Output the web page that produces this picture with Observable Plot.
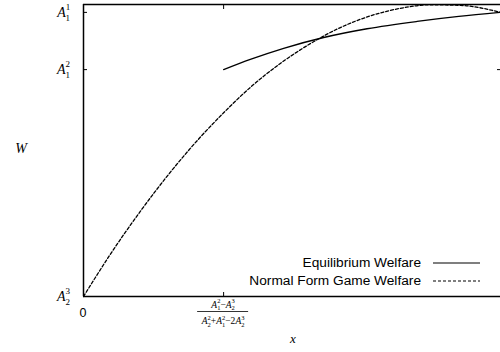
<!DOCTYPE html>
<html><head><meta charset="utf-8">
<script src="https://cdn.jsdelivr.net/npm/d3@7"></script>
<script src="https://cdn.jsdelivr.net/npm/@observablehq/plot@0.6"></script>
<style>body{margin:0;background:#fff} #chart svg{display:block}</style>
</head><body><div id="chart"></div>
<script>
// Normal form game welfare (dashed)
const nfX = [0, 0.065, 0.137, 0.209, 0.281, 0.336, 0.400, 0.472, 0.544, 0.616, 0.688, 0.760, 0.832, 0.904, 1.0];
const nfW = [0, 0.146, 0.293, 0.427, 0.547, 0.629, 0.716, 0.798, 0.866, 0.921, 0.961, 0.987, 0.999, 0.997, 0.973];
// Equilibrium welfare (solid)
const eqX = [0.336, 0.400, 0.480, 0.576, 0.680, 0.800, 0.900, 1.0];
const eqW = [0.777, 0.812, 0.850, 0.887, 0.917, 0.942, 0.959, 0.973];
// ticks
const yTickValues = [0.973, 0.777, 0];
const yTickLabels = [{sub:"1", sup:"1"}, {sub:"1", sup:"2"}, {sub:"2", sup:"3"}];
const xTickValues = [0.336];
const legendLabels = ["Equilibrium Welfare", "Normal Form Game Welfare"];

const nf = nfX.map((x, i) => ({x, w: nfW[i]}));
const eq = eqX.map((x, i) => ({x, w: eqW[i]}));

const serif = "'Liberation Serif', 'DejaVu Serif', serif";
const sans = "'Liberation Sans', Arial, sans-serif";

const chart = Plot.plot({
  width: 500, height: 352,
  marginLeft: 83, marginRight: 0, marginTop: 4, marginBottom: 56,
  x: {domain: [0, 1], label: null},
  y: {domain: [0, 1], label: null},
  style: {background: "white", color: "black"},
  marks: [
    Plot.line(nf, {x: "x", y: "w", stroke: "black", strokeWidth: 1.3, strokeDasharray: "3,2", curve: "monotone-x"}),
    Plot.line(eq, {x: "x", y: "w", stroke: "black", strokeWidth: 1.3, curve: "monotone-x"}),
    Plot.axisY(yTickValues.slice(0, 2), {anchor: "left", tickSize: -4, tickFormat: () => "", label: null}),
    Plot.axisY(yTickValues.slice(0, 2), {anchor: "right", tickSize: -4, tickFormat: () => "", label: null}),
    Plot.axisX(xTickValues, {anchor: "bottom", tickSize: -4, tickFormat: () => "", label: null}),
    Plot.axisX(xTickValues, {anchor: "top", tickSize: -4, tickFormat: () => "", label: null}),
    Plot.ruleX([0], {stroke: "black", strokeWidth: 1.5}),
    Plot.ruleY([0, 1], {stroke: "black", strokeWidth: 1.5})
  ]
});
document.getElementById("chart").append(chart);

const xs = chart.scale("x"), ys = chart.scale("y");
const sx = v => xs.apply(v), sy = v => ys.apply(v);
const svg = d3.select(chart);
const g = svg.append("g");

function addMath(x, y, terms, size, small, anchor, supShift, subShift) {
  const t = g.append("text").attr("x", x).attr("y", y).attr("text-anchor", anchor)
    .style("font-family", serif).style("font-size", size + "px").attr("fill", "black");
  let cur = 0;
  for (const term of terms) {
    if (typeof term === "string") {
      t.append("tspan").attr("dy", -cur).text(term);
      cur = 0;
    } else {
      t.append("tspan").attr("dy", -cur).style("font-style", "italic").text("A");
      t.append("tspan").attr("dy", -supShift).style("font-size", small + "px").text(term.sup);
      t.append("tspan").attr("dx", -small * 0.5).attr("dy", supShift + subShift).style("font-size", small + "px").text(term.sub);
      cur = subShift;
    }
  }
  return t;
}

// y tick labels
yTickValues.forEach((v, i) => {
  addMath(sx(0) - 13, sy(v) + 5, [yTickLabels[i]], 14, 9, "end", 7, 4);
});

// x tick labels
g.append("text").attr("x", sx(0)).attr("y", 317).attr("text-anchor", "middle")
  .style("font-family", sans).style("font-size", "12.5px").text("0");
const fx = sx(xTickValues[0]);
addMath(fx, 307.5, [{sub:"1", sup:"2"}, "\u2212", {sub:"2", sup:"3"}], 9.5, 6.5, "middle", 4.5, 2.5);
g.append("line").attr("x1", fx - 26).attr("x2", fx + 25).attr("y1", 311.5).attr("y2", 311.5)
  .attr("stroke", "black").attr("stroke-width", 0.8);
addMath(fx, 324, [{sub:"2", sup:"2"}, "+", {sub:"1", sup:"2"}, "\u22122", {sub:"2", sup:"3"}], 9.5, 6.5, "middle", 4.5, 2.5);

// axis titles
g.append("text").attr("x", 293).attr("y", 343).attr("text-anchor", "middle")
  .style("font-family", serif).style("font-style", "italic").style("font-size", "13px").text("x");
g.append("text").attr("x", 21).attr("y", 153).attr("text-anchor", "middle")
  .style("font-family", serif).style("font-style", "italic").style("font-size", "14px").text("W");

// legend
const lx = 421, ly = [267, 285];
legendLabels.forEach((lab, i) => {
  g.append("text").attr("x", lx).attr("y", ly[i]).attr("text-anchor", "end")
    .style("font-family", sans).style("font-size", "13.7px").text(lab);
  g.append("line").attr("x1", 433).attr("x2", 480).attr("y1", ly[i] - 4).attr("y2", ly[i] - 4)
    .attr("stroke", "black").attr("stroke-width", 1.1)
    .attr("stroke-dasharray", i === 1 ? "3,2" : null);
});
</script>
</body></html>
